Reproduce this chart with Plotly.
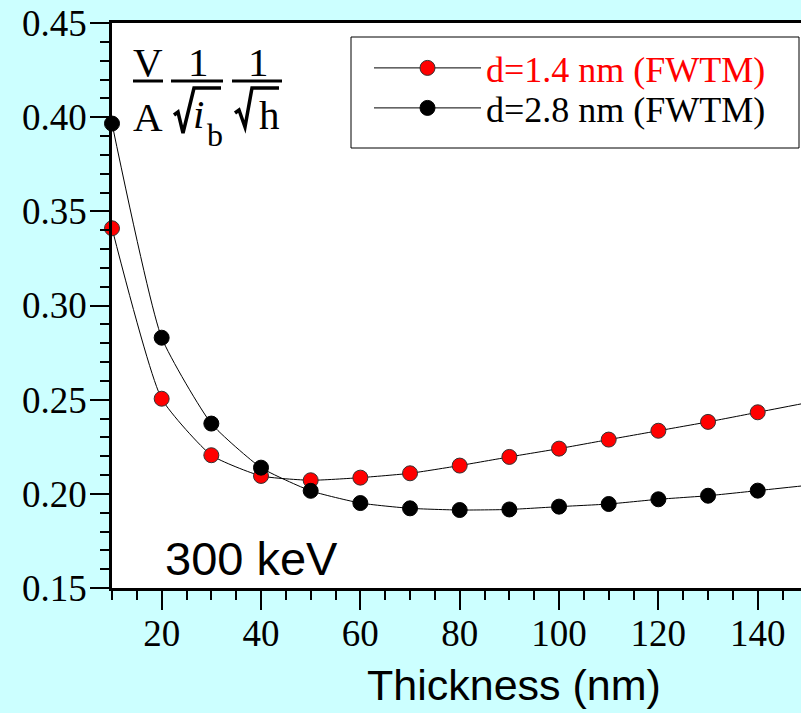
import plotly.graph_objects as go

# ---- data ----
thickness = [10, 20, 30, 40, 50, 60, 70, 80, 90, 100, 110, 120, 130, 140, 150]
d14_fwtm = [0.341, 0.2505, 0.2205, 0.2095, 0.2072, 0.2086, 0.2109, 0.2150, 0.2196,
            0.2240, 0.2288, 0.2335, 0.2382, 0.2433, 0.2484]
d28_fwtm = [0.3966, 0.2829, 0.2373, 0.2139, 0.2016, 0.1951, 0.1923, 0.1914, 0.1917,
            0.1932, 0.1946, 0.1971, 0.1990, 0.2017, 0.2045]
names = ["d=1.4 nm (FWTM)", "d=2.8 nm (FWTM)"]
x_ticks = [20, 40, 60, 80, 100, 120, 140]
y_ticks = [0.15, 0.20, 0.25, 0.30, 0.35, 0.40, 0.45]

W, H = 801, 713
L, R, T, B = 112, 801, 23, 588


def px(x):
    return (x - L) / (R - L)


def py(y):
    return (B - y) / (B - T)


SERIF = "Liberation Serif, Times New Roman, serif"
SANS = "Liberation Sans, Arial, sans-serif"

fig = go.Figure()
fig.add_trace(go.Scatter(
    x=thickness, y=d14_fwtm, name=names[0], mode="lines+markers",
    line=dict(color="black", width=1, shape="spline", smoothing=0.5),
    marker=dict(color="#ff0000", size=15, line=dict(color="#333333", width=1)),
    cliponaxis=False, legend="legend", showlegend=True))
fig.add_trace(go.Scatter(
    x=thickness, y=d28_fwtm, name=names[1], mode="lines+markers",
    line=dict(color="black", width=1, shape="spline", smoothing=0.5),
    marker=dict(color="#000000", size=15, line=dict(color="#000000", width=1)),
    cliponaxis=False, legend="legend2", showlegend=True))

axis_common = dict(showgrid=False, zeroline=False, showline=True, linecolor="black",
                   linewidth=2.5, ticks="outside", tickcolor="black", tickwidth=1.5,
                   ticklen=19)

fig.update_xaxes(range=[10, 10 + (R - L) / 4.967], tickvals=x_ticks, mirror=True,
                 tickfont=dict(family=SERIF, size=37, color="black"),
                 ticklabelstandoff=-8,
                 minor=dict(dtick=5, tick0=0, ticks="outside", ticklen=9,
                            tickcolor="black", tickwidth=1.5),
                 **axis_common)
fig.update_yaxes(range=[0.15, 0.45], tickvals=y_ticks, tickformat=".2f",
                 tickfont=dict(family=SERIF, size=37, color="black"),
                 ticklabelstandoff=-4,
                 minor=dict(dtick=0.01, tick0=0, ticks="outside", ticklen=9,
                            tickcolor="black", tickwidth=1.5),
                 **axis_common)

shapes = []
# legend frame
shapes.append(dict(type="rect", xref="paper", yref="paper",
                   x0=px(351), x1=px(799), y0=py(148), y1=py(37),
                   line=dict(color="black", width=1), fillcolor="white", layer="below"))
# fraction bars
for a, b in [(133, 163), (171, 223), (232, 282)]:
    shapes.append(dict(type="line", xref="paper", yref="paper",
                       x0=px(a), x1=px(b), y0=py(81), y1=py(81),
                       line=dict(color="black", width=3)))
# radical signs
for pts in [[(174, 115), (178, 112), (183, 133), (194, 88), (221, 88)],
            [(235, 113), (239, 110), (245, 127), (252, 88), (279, 88)]]:
    path = "M " + " L ".join(f"{px(a):.5f},{py(b):.5f}" for a, b in pts)
    shapes.append(dict(type="path", xref="paper", yref="paper", path=path,
                       line=dict(color="black", width=3.5)))

ann = []


def text(s, x, y, size, family=SERIF, xa="center", ya="middle"):
    ann.append(dict(text=s, x=px(x), y=py(y), xref="paper", yref="paper",
                    showarrow=False, xanchor=xa, yanchor=ya, borderpad=0,
                    font=dict(family=family, size=size, color="black")))


text("V", 148, 62, 41)
text("A", 148, 117, 41)
text("1", 198, 62, 41)
text("<i>i</i>", 205, 114, 41, xa="right")
text("b", 206, 135, 32, xa="left")
text("1", 258, 62, 41)
text("h", 269, 115, 41)
text("300 keV", 251, 558, 47, family=SANS)
text("Thickness (nm)", 514, 685, 43, family=SANS)

fig.update_layout(
    width=W, height=H,
    margin=dict(l=L, r=W - R, t=T, b=H - B, pad=0),
    paper_bgcolor="#ccffff", plot_bgcolor="white",
    showlegend=True,
    shapes=shapes, annotations=ann,
    legend=dict(x=px(369), y=py(68), xanchor="left", yanchor="middle",
                bgcolor="rgba(0,0,0,0)", borderwidth=0, itemwidth=107,
                font=dict(family=SERIF, size=36, color="#ff0000")),
    legend2=dict(x=px(369), y=py(108), xanchor="left", yanchor="middle",
                 bgcolor="rgba(0,0,0,0)", borderwidth=0, itemwidth=107,
                 font=dict(family=SERIF, size=36, color="black")),
)

fig.write_html("out.html", config={"displayModeBar": False},
               post_script="document.body.style.margin='0';"
                           "document.body.style.overflow='hidden';")
